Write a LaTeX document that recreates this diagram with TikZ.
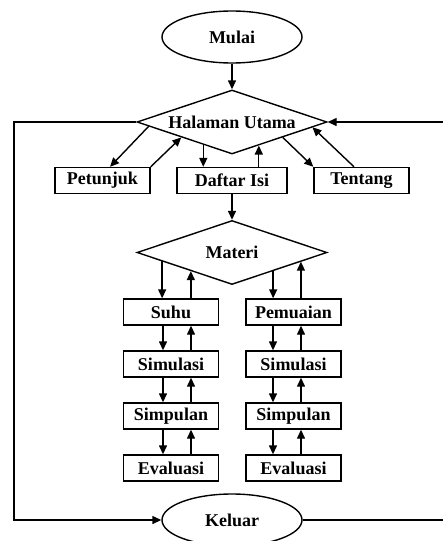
\documentclass[tikz,border=0pt]{standalone}
\usepackage{fontspec}
\setmainfont{Liberation Serif}
\usepackage{tikz}
\usetikzlibrary{shapes.geometric, arrows.meta, calc}
\tikzset{
  garis/.style={line width=1.4pt},
  panah/.style={garis, -{Triangle[length=9pt, width=8pt]}},
  label/.style={font=\fontsize{18}{20}\selectfont\bfseries},
  kotak/.style={label, draw, garis, rectangle, minimum width=95pt, minimum height=26pt, inner sep=0pt},
  terminal/.style={label, draw, garis, ellipse, minimum width=140pt, minimum height=52pt, inner sep=0pt},
  keputusan/.style={label, draw, garis, diamond, aspect=3, minimum width=190pt, minimum height=64pt, inner sep=0pt}
}

\begin{document}
\begin{tikzpicture}[x=1pt, y=-1pt]

  \useasboundingbox (0, 0) rectangle (442, 541);

  \node[terminal] (mulai) at (232, 37) {Mulai};
  \node[keputusan] (halaman) at (232, 122) {Halaman Utama};

  \node[kotak] (petunjuk) at (102.5, 180.5) {Petunjuk};
  \node[kotak, minimum width=110pt] (daftar) at (232, 180.5) {Daftar Isi};
  \node[kotak] (tentang) at (361.5, 180.5) {Tentang};

  \node[keputusan] (materi) at (232, 252.5) {Materi};

  \node[kotak] (suhu) at (171, 312) {Suhu};
  \node[kotak] (simulasiA) at (171, 364) {Simulasi};
  \node[kotak] (simpulanA) at (171, 416) {Simpulan};
  \node[kotak] (evaluasiA) at (171, 468) {Evaluasi};

  \node[kotak] (pemuaian) at (293.5, 312) {Pemuaian};
  \node[kotak] (simulasiB) at (293.5, 364) {Simulasi};
  \node[kotak] (simpulanB) at (293.5, 416) {Simpulan};
  \node[kotak] (evaluasiB) at (293.5, 468) {Evaluasi};

  \node[terminal] (keluar) at (232, 520) {Keluar};

  \coordinate (kiri) at (14, 520);
  \coordinate (kanan) at (448, 122);

  % alur utama
  \draw[panah] (mulai) -- (halaman);
  \draw[panah] (daftar) -- (materi);
  \draw[panah] (halaman.west) -| (kiri) -- (keluar.west);
  \draw[panah] (keluar.east) -| (kanan) -- (halaman.east);

  % halaman utama ke menu
  \coordinate (h1) at ($(halaman.west)!.70!(halaman.south)$);
  \coordinate (h2) at ($(halaman.south)!.28!(halaman.east)$);
  \draw[panah] ($(halaman.west)!.13!(halaman.south)$) -- ([xshift=7.5pt]petunjuk.north);
  \draw[panah] (petunjuk.north east) -- ($(halaman.west)!.47!(halaman.south)$);
  \draw[panah] (h1) -- (h1 |- daftar.north);
  \draw[panah] (h2 |- daftar.north) -- (h2);
  \draw[panah] ($(halaman.south)!.53!(halaman.east)$) -- (tentang.north west);
  \draw[panah] ([xshift=-7.5pt]tentang.north) -- ($(halaman.south)!.84!(halaman.east)$);

  % materi
  \coordinate (m1) at ($(materi.west)!.27!(materi.south)$);
  \coordinate (m2) at ($(materi.west)!.57!(materi.south)$);
  \coordinate (m3) at ($(materi.south)!.43!(materi.east)$);
  \coordinate (m4) at ($(materi.south)!.72!(materi.east)$);
  \draw[panah] (m1) -- (m1 |- suhu.north);
  \draw[panah] (m2 |- suhu.north) -- (m2);
  \draw[panah] (m3) -- (m3 |- pemuaian.north);
  \draw[panah] (m4 |- pemuaian.north) -- (m4);

  \foreach \atas/\bawah in {suhu/simulasiA, simulasiA/simpulanA, simpulanA/evaluasiA} {
    \draw[panah] ([xshift=-8pt]\atas.south) -- ([xshift=-8pt]\bawah.north);
    \draw[panah] ([xshift=20pt]\bawah.north) -- ([xshift=20pt]\atas.south);
  }
  \foreach \atas/\bawah in {pemuaian/simulasiB, simulasiB/simpulanB, simpulanB/evaluasiB} {
    \draw[panah] ([xshift=-20.5pt]\atas.south) -- ([xshift=-20.5pt]\bawah.north);
    \draw[panah] ([xshift=7.5pt]\bawah.north) -- ([xshift=7.5pt]\atas.south);
  }

\end{tikzpicture}
\end{document}
